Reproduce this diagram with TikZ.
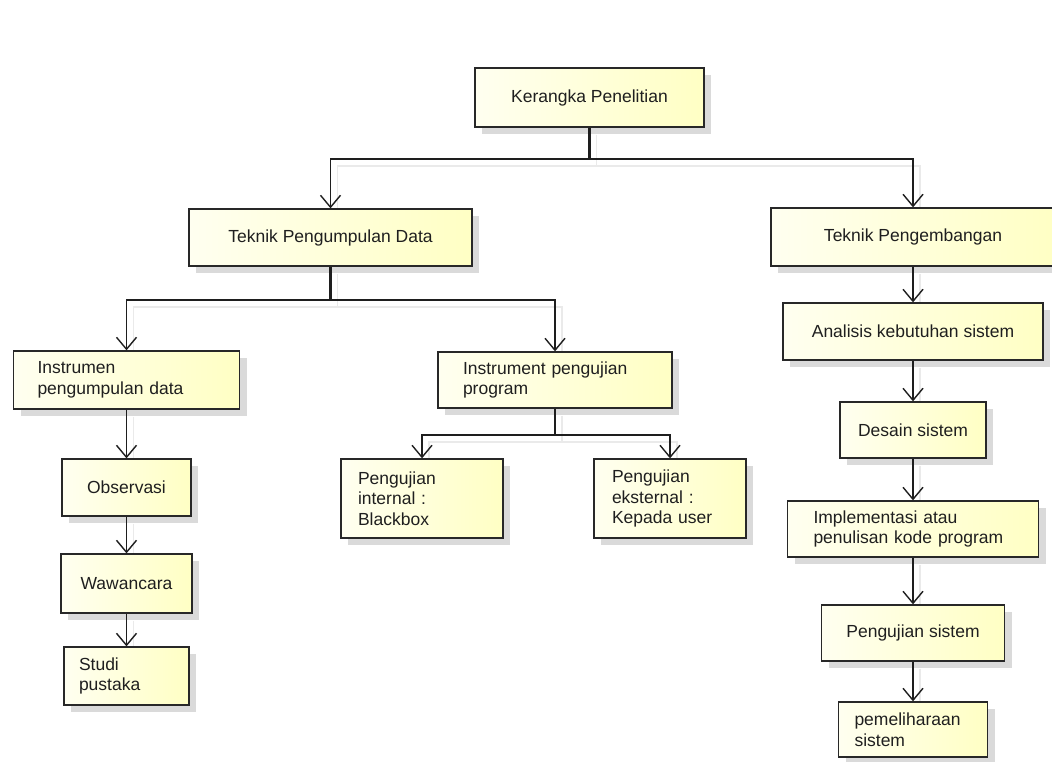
\documentclass[tikz,border=0pt]{standalone}
\usepackage{fontspec}
\setmainfont{Liberation Sans}
\usepackage{tikz}
\usetikzlibrary{positioning}
\usetikzlibrary{arrows.meta}
\usetikzlibrary{shadows}
\usetikzlibrary{backgrounds}
\definecolor{box-left}{RGB}{255,255,240}
\definecolor{box-right}{RGB}{255,255,196}
\definecolor{box-line}{RGB}{40,40,40}
\definecolor{link-line}{RGB}{30,30,30}
\definecolor{shade-gray}{RGB}{218,218,218}
\definecolor{ghost-gray}{RGB}{234,234,234}

\begin{document}
\begin{tikzpicture}[x=1pt, y=-1pt, >={Straight Barb[length=12pt,width=20pt]},
box/.style={draw=box-line, line width=1.3pt, left color=box-left, right color=box-right, text=black!88,
  font=\fontsize{17.5}{20.5}\selectfont, inner sep=0pt,
  drop shadow={shadow xshift=7pt, shadow yshift=-7pt, fill=shade-gray, opacity=1}},
boxl/.style={box, align=left},
link/.style={draw=link-line, line width=1.4pt},
stem/.style={draw=link-line, line width=2.6pt},
ghost/.style={draw=ghost-gray, line width=1.2pt, transform canvas={shift={(7pt,-7pt)}}}]
\useasboundingbox (0,0) rectangle (1052,762);

% top
\node[box, minimum width=229pt, minimum height=59pt] (kp) at (589.5,97.5) {Kerangka Penelitian};
\node[box, minimum width=283pt, minimum height=57pt] (tpd) at (330.5,237.5) {Teknik Pengumpulan Data};
\node[box, minimum width=284pt, minimum height=58pt] (tpg) at (913,237) {Teknik Pengembangan};

% data
\node[boxl, text width=178pt, inner xsep=24pt, minimum height=58pt] (ipd) at (126.5,380) {Instrumen\\pengumpulan data};
\node[box, minimum width=129pt, minimum height=57pt] (obs) at (126.5,487.5) {Observasi};
\node[box, minimum width=131pt, minimum height=59pt] (waw) at (126.5,583.5) {Wawancara};
\node[boxl, text width=95pt, inner xsep=15pt, minimum height=58pt] (stu) at (126.5,676) {Studi\\pustaka};

% program
\node[boxl, text width=184pt, inner xsep=25pt, minimum height=56pt] (ipp) at (555,380) {Instrument pengujian\\program};
\node[boxl, text width=128pt, inner xsep=17pt, minimum height=79pt] (pin) at (422,498.5) {Pengujian\\internal :\\Blackbox};
\node[boxl, text width=116pt, inner xsep=18pt, minimum height=79pt] (pek) at (670,498.5) {Pengujian\\eksternal :\\Kepada user};

% pengembangan
\node[box, minimum width=260pt, minimum height=57pt] (aks) at (913,331.5) {Analisis kebutuhan sistem};
\node[box, minimum width=146pt, minimum height=56pt] (des) at (913,430) {Desain sistem};
\node[boxl, text width=199pt, inner xsep=26pt, minimum height=56pt] (imp) at (913,529) {Implementasi atau\\penulisan kode program};
\node[box, minimum width=183pt, minimum height=56pt] (pgs) at (913,633) {Pengujian sistem};
\node[boxl, text width=117pt, inner xsep=16pt, minimum height=55pt] (pml) at (913,729.5) {pemeliharaan\\sistem};

% forks
\coordinate (kpfork) at (589.5,159);
\coordinate (tpdfork) at (330.5,300);
\coordinate (ippfork) at (555,435);

% faint copies of the links
\begin{scope}[on background layer]
\fill[white] (0,0) rectangle (1052,762);
\draw[ghost] (kp.south) -- (kpfork) -| (tpd.north);
\draw[ghost] (kpfork) -| (tpg.north);
\draw[ghost] (tpd.south) -- (tpdfork) -| (ipd.north);
\draw[ghost] (tpdfork) -| (ipp.north);
\draw[ghost] (ipp.south) -- (ippfork) -| (pin.north);
\draw[ghost] (ippfork) -| (pek.north);
\draw[ghost] (ipd.south) -- (obs.north);
\draw[ghost] (obs.south) -- (waw.north);
\draw[ghost] (waw.south) -- (stu.north);
\draw[ghost] (tpg.south) -- (aks.north);
\draw[ghost] (aks.south) -- (des.north);
\draw[ghost] (des.south) -- (imp.north);
\draw[ghost] (imp.south) -- (pgs.north);
\draw[ghost] (pgs.south) -- (pml.north);
\end{scope}

% links
\draw[stem] (kp.south) -- (kpfork);
\draw[link,->] (kpfork) -| (tpd.north);
\draw[link,->] (kpfork) -| (tpg.north);
\draw[stem] (tpd.south) -- (tpdfork);
\draw[link,->] (tpdfork) -| (ipd.north);
\draw[link,->] (tpdfork) -| (ipp.north);
\draw[stem] (ipp.south) -- (ippfork);
\draw[link,->] (ippfork) -| (pin.north);
\draw[link,->] (ippfork) -| (pek.north);

% columns
\draw[link,->] (ipd.south) -- (obs.north);
\draw[link,->] (obs.south) -- (waw.north);
\draw[link,->] (waw.south) -- (stu.north);
\draw[link,->] (tpg.south) -- (aks.north);
\draw[link,->] (aks.south) -- (des.north);
\draw[link,->] (des.south) -- (imp.north);
\draw[link,->] (imp.south) -- (pgs.north);
\draw[link,->] (pgs.south) -- (pml.north);
\end{tikzpicture}
\end{document}
